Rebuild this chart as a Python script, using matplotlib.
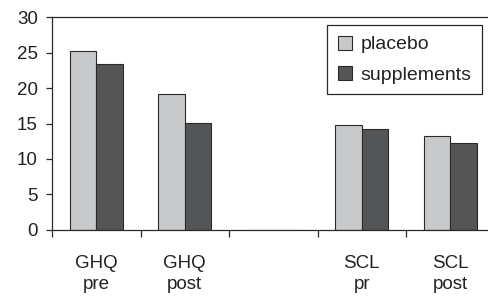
import matplotlib
matplotlib.use("Agg")
import matplotlib.pyplot as plt
import numpy as np

categories = ["GHQ\npre", "GHQ\npost", "", "SCL\npr", "SCL\npost"]
placebo = [25.2, 19.2, 0, 14.8, 13.2]
supplements = [23.35, 15.1, 0, 14.2, 12.3]

plt.rcParams['font.family'] = ['Liberation Sans', 'DejaVu Sans']
plt.rcParams['font.size'] = 13.5

fig = plt.figure(figsize=(4.89, 2.96), dpi=100)
ax = fig.add_axes([52 / 489, 66.3 / 296, 442.5 / 489, 212.4 / 296])

x = np.arange(len(categories))
w = 0.3
ax.bar(x - w / 2, placebo, w, color="#c8c9cb", edgecolor="#2a2a2a", linewidth=0.8, label="placebo")
ax.bar(x + w / 2, supplements, w, color="#545557", edgecolor="#2a2a2a", linewidth=0.8, label="supplements")

ax.set_xlim(-0.5, len(categories) - 0.5)
ax.set_ylim(0, 30)
ax.set_yticks(range(0, 31, 5))
ax.set_xticks(x)
ax.set_xticklabels(categories, linespacing=1.25)
ax.set_xticks(np.arange(-0.5, len(categories)), minor=True)
ax.tick_params(axis="x", which="major", length=0, pad=18.5, labelsize=13.5, labelcolor="#222222")
ax.tick_params(axis="x", which="minor", length=5, width=0.9, color="#2a2a2a")
ax.tick_params(axis="y", length=4.3, width=0.9, color="#2a2a2a", pad=5.8, labelsize=13.5, labelcolor="#222222")
for s in ax.spines.values():
    s.set_color("#2a2a2a")
    s.set_linewidth(0.9)

leg = fig.legend(loc="upper left", bbox_to_anchor=(327 / 489, 1 - 25 / 296),
                 fancybox=False, edgecolor="#2a2a2a", framealpha=1,
                 handlelength=0.72, handleheight=0.72, handletextpad=0.45,
                 labelspacing=0.65, borderpad=0.55, fontsize=14, borderaxespad=0)
leg.get_frame().set_linewidth(0.9)
for t in leg.get_texts():
    t.set_color("#222222")

fig.savefig("out.png", dpi=100)
